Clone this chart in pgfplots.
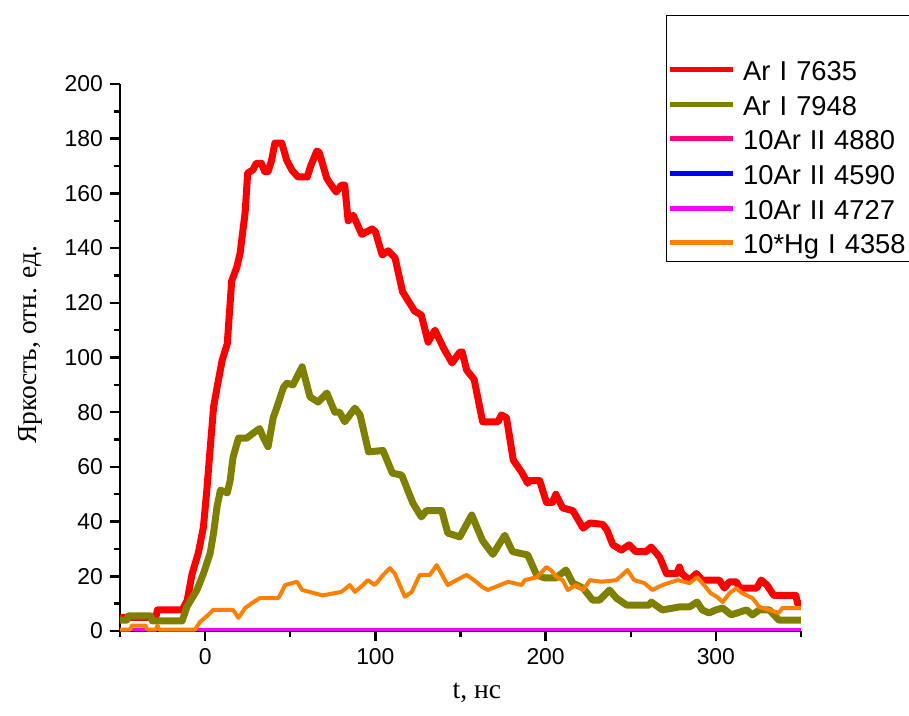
\documentclass[border=0pt]{standalone}
\usepackage{fontspec}
\setmainfont{Liberation Sans}
\newfontfamily\serifcyr{Liberation Serif}
\usepackage{pgfplots}
\pgfplotsset{compat=1.18}
\definecolor{arred}{RGB}{255,0,0}
\definecolor{arolive}{RGB}{128,128,0}
\definecolor{arpink}{RGB}{255,0,128}
\definecolor{arblue}{RGB}{0,0,255}
\definecolor{armag}{RGB}{255,0,255}
\definecolor{hgorange}{RGB}{255,128,0}
\begin{document}
\begin{tikzpicture}
\useasboundingbox (-60bp,-42.5bp) rectangle (394.5bp,315.5bp);
\begin{axis}[
  at={(0,0)}, anchor=south west,
  scale only axis, width=340.5bp, height=273.5bp,
  xmin=-50, xmax=350, ymin=0, ymax=200,
  enlargelimits=false, clip=false,
  axis x line=bottom, axis y line=left,
  axis line style={-, line width=1.3bp, black},
  tick align=outside,
  xtick={0,100,200,300}, minor xtick={-50,50,150,250,350},
  ytick={0,20,...,200}, minor ytick={10,30,...,190},
  major tick length=5bp, minor tick length=3bp,
  every tick/.style={line width=1.2bp, black},
  /pgf/number format/assume math mode=true,
  ticklabel style={font=\fontsize{11.5}{13}\selectfont},
  xlabel={\serifcyr t, нс},
  ylabel={\serifcyr Яркость, отн. ед.},
  label style={font=\fontsize{13.8}{15}\selectfont},
  xlabel style={at={(axis description cs:0.524,-0.113)}, anchor=center},
  ylabel style={at={(axis description cs:-0.132,0.523)}, anchor=center},
  legend style={
    at={(0.8018,1.1261)}, anchor=north west,
    draw=black, line width=0.6bp, fill=white,
    font=\fontsize{13.7}{15}\selectfont,
    inner xsep=0.5bp, inner ysep=4bp,
    row sep=6.35bp, column sep=3.8bp,
    nodes={text height=11bp, text depth=0pt, inner xsep=0pt, inner ysep=0pt, text width=86bp},
    cells={anchor=west},
  },
  legend cell align=left,
  legend image code/.code={\draw[#1, line width=2.5bp] (0bp,0bp) -- (31.5bp,0bp);},
]
\addlegendimage{empty legend}
\addlegendentry{}

\addplot[arred, line width=3.5bp, line join=round] coordinates {
(-50,5) (-29,5) (-28,7.7) (-13.5,7.7) (-10.6,11) (-7.6,21) (-4,28.5) (-1,38) (1,51.5) (3,67) (5,82) (7,89) (10,99) (13,105) (15.6,128) (18.6,133) (20.5,138) (23.5,153) (25,167.5) (28,168.5) (30,171) (33,171) (35,168) (37,168) (39,172) (41,178.4) (45,178.4) (48,172) (51,168.5) (54.5,166) (60,166) (62,170) (65.6,175.5) (67,175) (71.4,165.6) (73,164) (77,160.5) (80,163) (82,163) (84,150) (87,152) (92,145) (95,146) (98,147) (100,146) (104,137.5) (107.5,139) (111.5,136.5) (116,124) (120,120) (123,117) (127,115.5) (131,105.6) (135,110) (140,103.5) (145,98) (149.6,102) (151,102) (153.6,95.4) (158,92) (163,76.5) (172,76.5) (174,79) (177,78) (181,62.5) (186,58) (189.5,54) (190.5,55) (196.5,55) (200.5,47) (204,47) (206,50) (210,45) (216,44) (222,37.6) (226,39.5) (233.5,39) (236,37) (239.5,31.5) (244.5,29.6) (249,31.5) (253,29) (259,29) (262,30.7) (267,27) (271,21) (277,21) (278.6,23.4) (280,21) (284.5,18.6) (288.5,21) (292,18.6) (302,18.6) (305,15.7) (308,18) (312,18) (314,15.7) (324,15.7) (326.6,18.6) (330,16.8) (334,13) (347,13) (348,10) (350,10)
};
\addlegendentry{Ar I 7635}

\addplot[arolive, line width=3.5bp, line join=round] coordinates {
(-50,4) (-46,4) (-45,5.5) (-32,5.5) (-31,3.7) (-13.5,3.7) (-10.6,9) (-4.8,15) (-1,21) (3,28.5) (5,36) (7,45.5) (9,51.5) (13,50.5) (14.7,55) (16.4,63.5) (19.6,70.5) (24.4,70.5) (27.5,72) (32,74) (34,71) (37,67.4) (40,78) (42,81.5) (46,89) (48,90.6) (51.6,90) (57,96.6) (61.6,85.6) (66.4,83.7) (71.5,87) (76.2,80) (79,80) (82,76.5) (88,81.5) (91,79) (96,65.5) (104.5,66) (110,57.7) (115.5,57) (122,46.8) (127,41.7) (130,44) (139,44) (142.5,35.8) (149.6,34.4) (156.6,42.4) (163,33) (169,28) (176,35) (180.6,29) (189.5,27.8) (194.7,20.5) (199.4,19.4) (206,19.4) (212,22.3) (216,17.5) (222,15.7) (227.6,11.3) (231.7,11.3) (237.5,15) (241.6,12) (247.5,9.5) (261,9.5) (262,10.6) (268.6,7.7) (278.6,8.8) (284.5,8.8) (289,10.6) (292,7.7) (296,6.6) (300,7.7) (304,8.4) (309,5.9) (318,7.7) (321.5,5.9) (325.5,7.7) (331.4,7.7) (337,4) (350,4)
};
\addlegendentry{Ar I 7948}

\addplot[arpink, line width=1.5bp] coordinates {(-50,0.3) (350,0.3)};
\addlegendentry{10Ar II 4880}

\addplot[arblue, line width=1.5bp] coordinates {(-50,0.3) (350,0.3)};
\addlegendentry{10Ar II 4590}

\addplot[armag, line width=1.5bp] coordinates {(-50,0.5) (350,0.5)};
\addlegendentry{10Ar II 4727}

\addplot[hgorange, line width=2bp, line join=round] coordinates {
(-50,0.5) (-44,0.5) (-43,2) (-35,2) (-34,0.5) (-29,0.5) (-28,2) (-27,0.5) (-6,0.5) (-3,3.3) (2,6) (4.7,7.7) (16.4,7.7) (19.6,4.8) (23.5,8.4) (27.5,10.2) (32,12) (43,12) (45,14.3) (47,16.8) (54,18) (57,15) (69,13) (80,14.3) (85,16.8) (88,14.3) (92.7,16.8) (95.6,18.6) (99.7,16.8) (104.6,20.5) (108.5,23) (111.4,21) (117.3,12.5) (121.4,14.3) (126,20.5) (132,20.5) (136,24.1) (142.5,16.8) (147.6,18.6) (153.5,20.5) (158,18.6) (163,16) (166,15) (178,18) (186,16.8) (187.7,18.6) (195,19.7) (200.5,23.4) (203.5,22) (206.5,19.7) (210,18.6) (213,15) (218,16.8) (222,15) (226,18.6) (233,18) (241.6,18.6) (245,20.5) (248,22.3) (252,18.6) (258,17.5) (262.7,15) (268.6,16.8) (277.5,18.6) (284.5,17.5) (289,19.7) (293,16.8) (297,13.8) (300.6,12.5) (304,10.6) (308,13.8) (312,15.7) (315.5,13.8) (321.5,12) (325.5,8.8) (331.4,7.7) (337,6.6) (339,8.4) (350,8.4)
};
\addlegendentry{10*Hg I 4358}
\end{axis}
\end{tikzpicture}
\end{document}
